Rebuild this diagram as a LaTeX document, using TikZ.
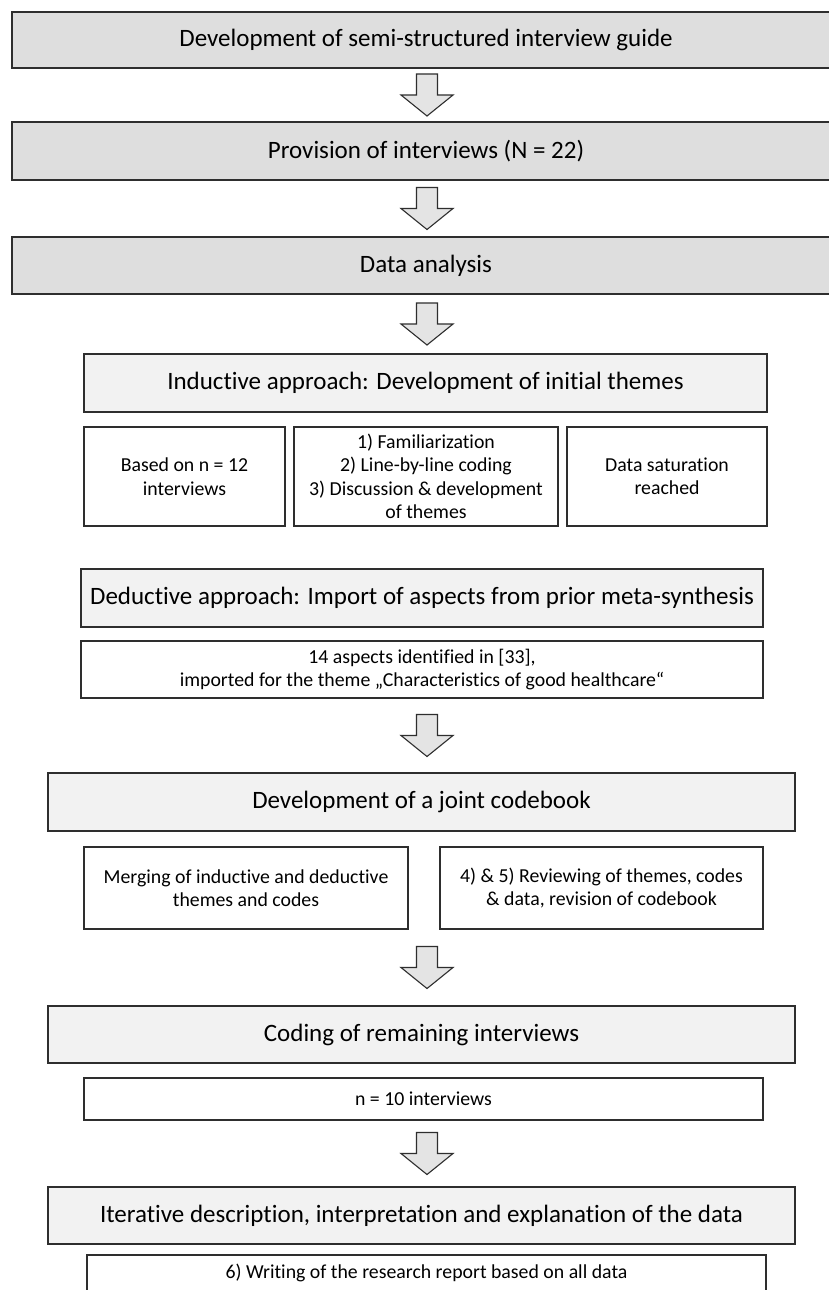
\documentclass[tikz,border=0pt]{standalone}
\usepackage{fontspec}
\setmainfont{Carlito}[Ligatures=NoCommon]
\usetikzlibrary{calc}

\definecolor{headdark}{HTML}{DEDEDE}
\definecolor{headlight}{HTML}{F2F2F2}
\definecolor{arrowfill}{HTML}{E4E4E4}
\definecolor{edge}{HTML}{2E2E2E}

% hollow block arrow between two stacked nodes
\newcommand\flowarrow[2]{%
  \coordinate (mid#1#2) at ($(#1.south)!0.5!(#2.north)$);
  \begin{scope}[shift={(axis |- mid#1#2)}]
    \draw[fatarrow] (-10.5,-21) -- (10.5,-21) -- (10.5,0) -- (26,0)
      -- (0,21) -- (-26,0) -- (-10.5,0) -- cycle;
  \end{scope}}

\begin{document}
\begin{tikzpicture}[x=1pt,y=-1pt,
  box/.style={draw=edge, line width=1.3pt, rectangle, inner sep=0pt,
    outer sep=0pt, align=center},
  stagebox/.style={box, fill=headdark, font=\fontsize{25}{30}\selectfont},
  phasebox/.style={box, fill=headlight, font=\fontsize{25}{30}\selectfont},
  detailbox/.style={box, fill=white, font=\fontsize{19.8}{23.4}\selectfont},
  fatarrow/.style={draw=edge, line width=1.1pt, fill=arrowfill, line join=miter}]

\useasboundingbox (0,0) rectangle (828,1290);
\fill[white] (0,0) rectangle (828,1290);
\coordinate (axis) at (427,0);

% main stages
\node[stagebox, minimum width=828pt, minimum height=56pt] (guide) at (426,40)
  {Development of semi-structured interview guide};
\node[stagebox, minimum width=828pt, minimum height=58pt] (prov) at (426,151)
  {Provision of interviews (N = 22)};
\node[stagebox, minimum width=828pt, minimum height=57pt] (anal) at (426,265.5)
  {Data analysis};

% inductive part
\node[phasebox, minimum width=683pt, minimum height=58pt] (induct) at (425.5,383)
  {Inductive approach: Development of initial themes};
\node[detailbox, minimum width=201pt, minimum height=99pt] (based) at (184.5,476.5)
  {Based on n = 12\\interviews};
\node[detailbox, minimum width=264pt, minimum height=99pt] (steps) at (426,476.5)
  {1) Familiarization\\2) Line-by-line coding\\3) Discussion \& development\\of themes};
\node[detailbox, minimum width=200pt, minimum height=99pt] (satur) at (667,476.5)
  {Data saturation\\reached};

% deductive part
\node[phasebox, minimum width=682pt, minimum height=58pt] (deduct) at (422,598)
  {Deductive approach: Import of aspects from prior meta-synthesis};
\node[detailbox, minimum width=682pt, minimum height=57pt] (aspects) at (422,669.5)
  {14 aspects identified in [33],\\imported for the theme „Characteristics of good healthcare“};

% joint codebook
\node[phasebox, minimum width=747pt, minimum height=58pt] (codebook) at (421.5,802)
  {Development of a joint codebook};
\node[detailbox, minimum width=324pt, minimum height=82pt] (merge) at (246,888)
  {Merging of inductive and deductive\\themes and codes};
\node[detailbox, minimum width=323pt, minimum height=82pt] (review) at (601.5,888)
  {4) \& 5) Reviewing of themes, codes\\\& data, revision of codebook};

% remaining interviews
\node[phasebox, minimum width=747pt, minimum height=57pt] (coding) at (421.5,1034.5)
  {Coding of remaining interviews};
\node[detailbox, minimum width=679pt, minimum height=42pt] (ten) at (423.5,1099)
  {n = 10 interviews};

% report
\node[phasebox, minimum width=747pt, minimum height=57pt] (iter) at (421.5,1215.5)
  {Iterative description, interpretation and explanation of the data};
\node[detailbox, minimum width=679pt, minimum height=36pt] (report) at (426.5,1273)
  {6) Writing of the research report based on all data};

% arrows
\flowarrow{guide}{prov}
\flowarrow{prov}{anal}
\flowarrow{anal}{induct}
\flowarrow{aspects}{codebook}
\flowarrow{merge}{coding}
\flowarrow{ten}{iter}
\end{tikzpicture}
\end{document}
